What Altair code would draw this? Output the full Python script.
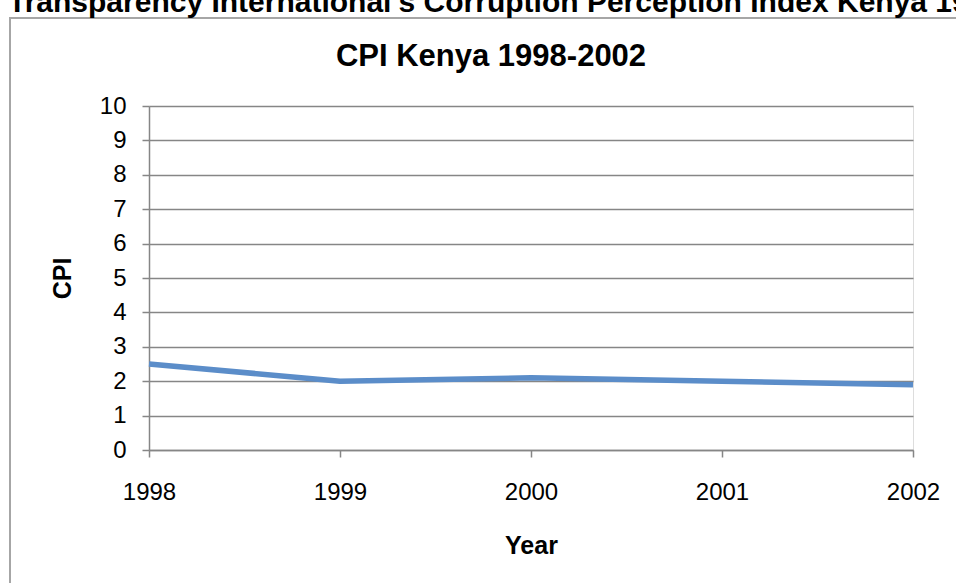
import altair as alt
import pandas as pd

# ---- data ----
years = ["1998", "1999", "2000", "2001", "2002"]
cpi = [2.5, 2.0, 2.1, 2.0, 1.9]
y_ticks = [0, 1, 2, 3, 4, 5, 6, 7, 8, 9, 10]
heading = "Transparency International's Corruption Perception Index Kenya 1998-2002"
chart_title = "CPI Kenya 1998-2002"

df = pd.DataFrame({"Year": years, "CPI": cpi})
deco = pd.DataFrame({"k": [0]})

FONT = "Liberation Sans"
GRID = "#868686"

line = alt.Chart(df).mark_line(
    color="#5B8DC9", strokeWidth=5.5, strokeJoin="round"
).encode(
    x=alt.X(
        "Year:O",
        scale=alt.Scale(padding=0),
        axis=alt.Axis(
            title="Year",
            labelAngle=0,
            labelFontSize=24,
            labelFont=FONT,
            labelColor="black",
            labelPadding=23,
            tickSize=7,
            tickColor=GRID,
            tickWidth=1.5,
            domainColor=GRID,
            domainWidth=1.5,
            titleFont=FONT,
            titleFontSize=25,
            titleFontWeight="bold",
            titleColor="black",
            titleX=382,
            titleY=95,
            titleAlign="center",
            titleBaseline="middle",
            grid=False,
        ),
    ),
    y=alt.Y(
        "CPI:Q",
        scale=alt.Scale(domain=[0, 10], nice=False),
        axis=alt.Axis(
            title="CPI",
            values=y_ticks,
            format="d",
            labelFontSize=24,
            labelFont=FONT,
            labelColor="black",
            labelPadding=16,
            tickSize=7,
            tickColor=GRID,
            tickWidth=1.5,
            domainColor=GRID,
            domainWidth=1.5,
            gridColor=GRID,
            gridWidth=1.5,
            titleFont=FONT,
            titleFontSize=25,
            titleFontWeight="bold",
            titleColor="black",
            titleAngle=-90,
            titleX=-87,
            titleY=172,
            titleAlign="center",
            titleBaseline="middle",
        ),
    ),
)

border = alt.Chart(deco).mark_rect(
    fill=None, stroke="#A6A6A6", strokeWidth=2
).encode(
    x=alt.value(-139), x2=alt.value(900), y=alt.value(-88), y2=alt.value(600)
)

head = alt.Chart(deco).mark_text(
    text=heading, font=FONT, fontSize=30, fontWeight="bold",
    align="left", baseline="alphabetic", color="black"
).encode(x=alt.value(-141), y=alt.value(-94))

title = alt.Chart(deco).mark_text(
    text=chart_title, font=FONT, fontSize=31, fontWeight="bold",
    align="center", baseline="alphabetic", color="black"
).encode(x=alt.value(342), y=alt.value(-40))

chart = alt.layer(border, line, head, title).properties(
    width=764,
    height=344,
    autosize=alt.AutoSizeParams(type="none"),
    padding={"left": 149, "top": 106, "right": 43, "bottom": 133},
).configure_view(stroke=None).configure(background="white")

chart.save("out.html", embed_options={"renderer": "svg", "actions": False})
